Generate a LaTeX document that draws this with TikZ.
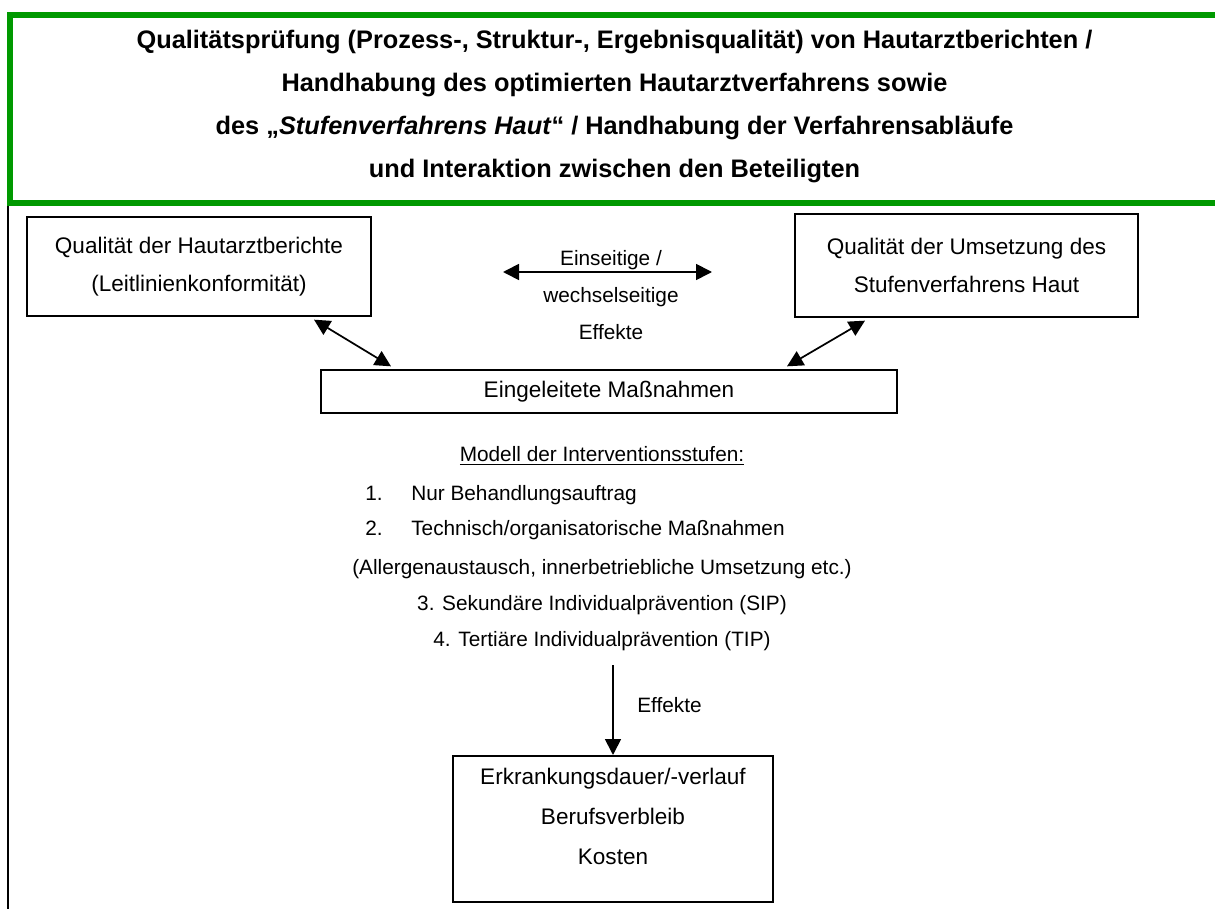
\documentclass[tikz,border=0pt]{standalone}
\usepackage{fontspec}
\setmainfont{Liberation Sans}
\usetikzlibrary{arrows.meta}
\definecolor{framegreen}{RGB}{0,153,0}
\begin{document}
\begin{tikzpicture}[x=0.75pt,y=-0.75pt,
  body/.style={font=\fontsize{15.6}{27.6}\selectfont},
  boxtext/.style={font=\fontsize{16.9}{28.5}\selectfont},
  heading/.style={font=\bfseries\fontsize{19}{32.25}\selectfont, align=center, inner sep=0pt},
  box/.style={draw, line width=1.5pt, align=center, inner sep=0pt, boxtext},
  plain/.style={body, align=center, inner sep=0pt},
  link/.style={line width=1.3pt, {Triangle[length=12pt,width=12pt]}-{Triangle[length=12pt,width=12pt]}},
  flow/.style={line width=1.3pt, -{Triangle[length=12pt,width=12pt]}},
]
\useasboundingbox (0,0) rectangle (1215,909);

% heading frame and the rule running down the left margin
\draw[framegreen, line width=4.5pt] (10,15.5) rectangle (1240,203);
\draw[line width=1.5pt] (8,206) -- (8,915);

\node[heading] (title) at (614.5,107) {Qualitätsprüfung (Prozess-, Struktur-, Ergebnisqualität) von Hautarztberichten /\\
Handhabung des optimierten Hautarztverfahrens sowie\\
des „\textit{Stufenverfahrens Haut}“ / Handhabung der Verfahrensabläufe\\
und Interaktion zwischen den Beteiligten};

% quality boxes
\node[box, minimum width=258pt, minimum height=74.25pt] (b1) at (199,266.5)
  {Qualität der Hautarztberichte\\(Leitlinienkonformität)};
\node[box, minimum width=257.25pt, minimum height=77.25pt] (b2) at (966.5,265.5)
  {Qualität der Umsetzung des\\Stufenverfahrens Haut};
\node[box, minimum width=432pt, minimum height=32.25pt] (mid) at (609,391.5)
  {Eingeleitete Maßnahmen};

% mutual effects
\node[plain] (effects) at (611,295) {Einseitige /\\wechselseitige\\Effekte};
\coordinate (hl) at (503,272);
\coordinate (hr) at (712,272);
\draw[link] (hl) -- (hr);

\draw[link] ([xshift=-43.5pt,yshift=-2pt]b1.south east) -- ([xshift=53.25pt,yshift=2pt]mid.north west);
\draw[link] ([xshift=53.25pt,yshift=-2pt]b2.south west) -- ([xshift=-83.25pt,yshift=2pt]mid.north east);

% intervention levels
\node[plain, anchor=base] (model) at (602,462) {\underline{Modell der Interventionsstufen:}};
\node[plain, anchor=base west] (n1) at (365,500) {1.};
\node[plain, anchor=base west] (s1) at (411,500) {Nur Behandlungsauftrag};
\node[plain, anchor=base west] (n2) at (365,536) {2.};
\node[plain, anchor=base west] (s2) at (411,536) {Technisch/organisatorische Maßnahmen};
\node[plain, anchor=base] (s2b) at (602,574) {(Allergenaustausch, innerbetriebliche Umsetzung etc.)};
\node[plain, anchor=base] (s3) at (602,610) {3. Sekundäre Individualprävention (SIP)};
\node[plain, anchor=base] (s4) at (602,646) {4. Tertiäre Individualprävention (TIP)};

% outcome
\node[box, minimum width=240pt, minimum height=109.5pt] (bot) at (613,829) {};
\node[box, draw=none, font=\fontsize{16.9}{30}\selectfont] (outcome) at (613,816)
  {Erkrankungsdauer/-verlauf\\Berufsverbleib\\Kosten};

\coordinate (vs) at (613,665);
\draw[flow] (vs) -- (bot.north);
\node[plain, anchor=base west] (flowlabel) at (637,712) {Effekte};
\end{tikzpicture}
\end{document}
